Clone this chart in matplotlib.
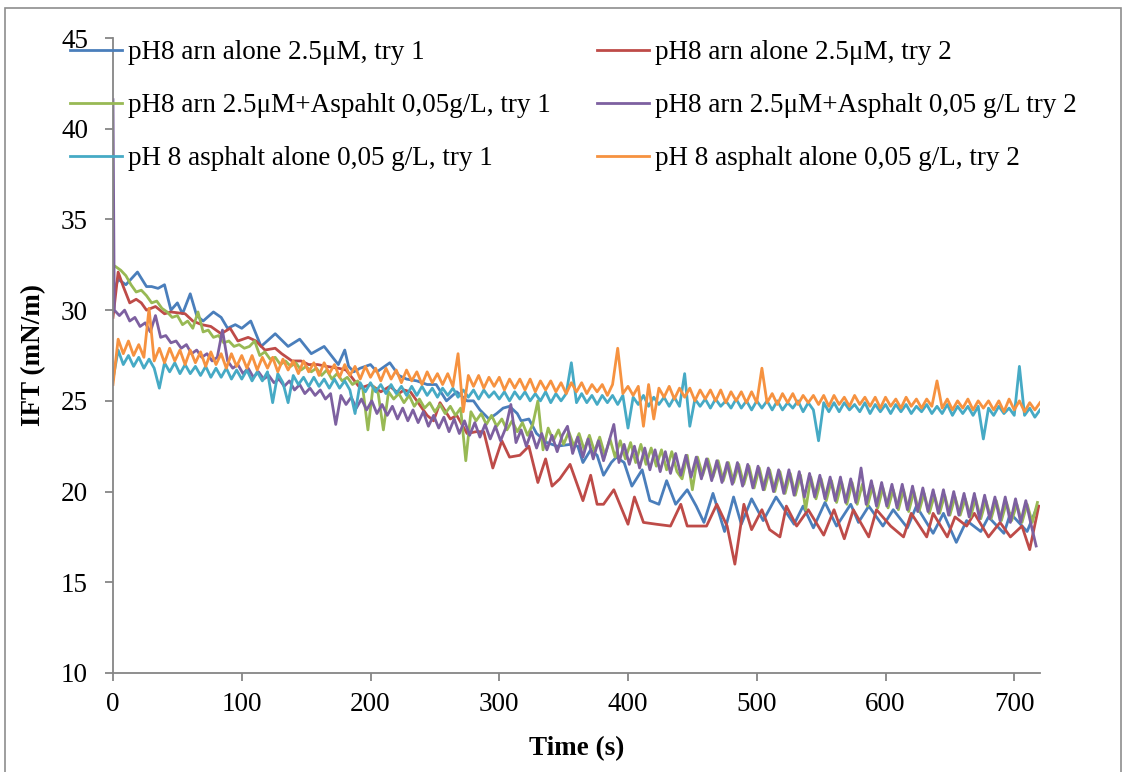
import numpy as np
import matplotlib
matplotlib.use('Agg')
import matplotlib.pyplot as plt
from matplotlib.patches import Rectangle

# Données (temps en s, IFT en mN/m)
blue = [
    (0, 30.9), (4, 31.7), (10, 31.4), (19, 32.1), (26, 31.3), (30, 31.3), (35, 31.2), (40, 31.4),
    (45, 30.0), (50, 30.4), (54, 29.8), (60, 30.9), (65, 29.7), (70, 29.4), (78, 29.9), (84, 29.6),
    (89, 29.0), (95, 29.2), (100, 29.0), (107, 29.4), (115, 28.0), (126, 28.7), (136, 28.0), (145, 28.4),
    (154, 27.6), (164, 28.0), (175, 27.0), (180, 27.8), (183, 26.9), (187, 26.6), (192, 26.8), (200, 27.0),
    (205, 26.6), (215, 27.1), (222, 26.4), (228, 26.2), (236, 26.1), (244, 25.9), (251, 25.9), (259, 25.0),
    (267, 25.5), (275, 25.0), (280, 25.0), (285, 24.5), (292, 24.0), (298, 24.3), (303, 24.6), (308, 24.7),
    (314, 24.3), (317, 23.9), (323, 24.0), (329, 23.2), (337, 22.7), (345, 22.5), (355, 22.6), (361, 22.5),
    (365, 21.6), (371, 22.3), (376, 22.0), (381, 20.9), (387, 21.6), (391, 21.9), (397, 21.6), (403, 20.3),
    (411, 21.2), (417, 19.5), (424, 19.3), (430, 20.6), (437, 19.3), (446, 20.1), (453, 19.2), (459, 18.3),
    (466, 19.9), (475, 17.8), (482, 19.7), (488, 18.2), (496, 19.6), (505, 18.4), (515, 19.7), (529, 18.2),
    (536, 19.2), (544, 18.0), (553, 19.4), (562, 18.1), (573, 19.3), (579, 18.3), (587, 19.2), (598, 18.1),
    (606, 19.0), (617, 18.0), (624, 19.2), (637, 17.7), (645, 18.8), (655, 17.2), (663, 18.4), (674, 17.8),
    (680, 18.6), (692, 17.7), (697, 18.8), (710, 17.8), (718, 19.2),
]

red = [
    (0, 29.6), (4, 32.1), (8, 31.3), (13, 30.4), (18, 30.6), (22, 30.4), (26, 30.0), (33, 30.2),
    (40, 29.8), (45, 29.9), (56, 29.8), (62, 29.4), (69, 29.2), (76, 29.1), (84, 28.7), (91, 29.0),
    (97, 28.3), (105, 28.5), (111, 28.3), (118, 27.8), (126, 27.9), (131, 27.6), (139, 27.2), (146, 27.2),
    (152, 27.0), (159, 27.0), (166, 26.9), (175, 26.8), (181, 26.7), (192, 25.7), (200, 25.9), (208, 25.5),
    (215, 25.8), (222, 25.4), (226, 25.6), (231, 25.5), (244, 24.2), (249, 23.9), (254, 24.9), (262, 24.0),
    (267, 24.2), (275, 23.2), (282, 23.3), (288, 23.3), (295, 21.3), (302, 22.8), (308, 21.9), (316, 22.0),
    (323, 22.5), (330, 20.5), (336, 21.8), (341, 20.3), (347, 20.7), (355, 21.5), (365, 19.5), (371, 20.9),
    (376, 19.3), (381, 19.3), (389, 20.1), (400, 18.2), (405, 19.7), (412, 18.3), (422, 18.2), (433, 18.1),
    (441, 19.3), (446, 18.1), (461, 18.1), (469, 19.3), (477, 18.1), (483, 16.0), (490, 19.3), (496, 17.9),
    (504, 19.0), (510, 17.9), (518, 17.5), (523, 19.2), (531, 18.1), (540, 19.0), (552, 17.6), (560, 19.0),
    (568, 17.4), (575, 19.0), (587, 17.5), (593, 19.0), (604, 18.1), (614, 17.5), (620, 18.8), (632, 17.5),
    (637, 18.8), (648, 17.5), (654, 18.6), (663, 18.1), (669, 18.8), (680, 17.5), (689, 18.3), (697, 17.5),
    (706, 18.1), (712, 16.8), (719, 19.2),
]

# séries échantillonnées toutes les 4 s
t_green = np.arange(2, 721, 4)
green = [
    32.4, 32.2, 31.9, 31.4, 31.0, 31.1, 30.8, 30.4, 30.5, 30.1,
    29.9, 29.6, 29.7, 29.2, 29.4, 29.0, 29.9, 28.8, 28.9, 28.5,
    28.6, 28.2, 28.3, 28.0, 28.1, 27.9, 28.0, 28.3, 27.5, 27.7,
    27.3, 27.4, 27.0, 27.2, 26.9, 27.1, 26.7, 26.9, 26.6, 26.8,
    26.4, 26.7, 26.2, 26.5, 26.1, 26.3, 25.9, 26.1, 25.7, 23.4,
    25.8, 25.4, 23.4, 25.5, 25.1, 25.4, 24.9, 25.3, 24.7, 25.1,
    24.6, 24.9, 24.4, 24.8, 24.3, 24.7, 24.2, 24.6, 21.7, 24.4,
    23.9, 24.3, 23.7, 24.2, 23.6, 24.0, 23.4, 23.9, 23.3, 23.8,
    23.1, 23.7, 25.0, 22.3, 23.5, 22.8, 23.4, 22.6, 23.3, 22.5,
    23.2, 22.3, 23.1, 22.2, 23.0, 22.0, 22.9, 21.9, 22.8, 21.8,
    22.7, 21.6, 22.6, 21.5, 22.4, 21.4, 22.3, 21.2, 22.2, 21.1,
    20.7, 22.0, 20.1, 21.9, 20.9, 21.8, 20.8, 21.7, 20.6, 21.6,
    20.5, 21.5, 20.4, 21.4, 20.2, 21.3, 20.1, 21.2, 20.0, 21.1,
    19.9, 21.0, 19.8, 20.9, 19.0, 20.8, 19.6, 20.7, 19.5, 20.6,
    19.4, 20.5, 19.3, 20.5, 19.3, 20.4, 19.2, 20.3, 19.1, 20.2,
    19.1, 20.1, 19.0, 20.1, 18.9, 20.0, 18.9, 19.9, 18.8, 19.8,
    18.8, 19.8, 18.7, 19.7, 18.7, 19.6, 18.6, 19.6, 18.5, 19.5,
    18.5, 19.5, 18.4, 19.4, 18.4, 19.3, 18.3, 19.3, 18.3, 19.4,
]

t_purple = np.r_[0, np.arange(1, 721, 4)]
purple = [
    41.6,
    30.0, 29.7, 30.0, 29.4, 29.6, 29.1, 29.3, 28.8, 29.7, 28.5,
    28.6, 28.2, 28.3, 27.9, 28.1, 27.6, 27.8, 27.4, 27.6, 27.2,
    27.4, 28.9, 27.2, 26.8, 27.0, 26.5, 26.8, 26.3, 26.6, 26.2,
    26.4, 26.0, 26.2, 25.8, 26.1, 25.6, 25.9, 25.4, 25.7, 25.3,
    25.6, 25.1, 25.4, 23.7, 25.3, 24.8, 25.2, 24.6, 25.1, 24.5,
    25.0, 24.3, 24.8, 24.2, 24.7, 24.0, 24.6, 23.9, 24.5, 23.8,
    24.4, 23.6, 24.2, 23.5, 24.1, 23.3, 24.0, 23.2, 23.9, 23.1,
    23.8, 23.0, 23.7, 22.9, 23.6, 22.8, 23.5, 24.8, 22.7, 23.4,
    22.5, 23.3, 22.4, 23.2, 22.3, 23.1, 22.2, 23.1, 23.6, 22.1,
    23.0, 21.9, 22.9, 21.8, 22.8, 21.7, 22.7, 23.7, 21.6, 22.6,
    21.5, 22.5, 21.3, 22.4, 21.2, 22.3, 21.1, 22.2, 21.0, 22.1,
    20.9, 22.0, 20.8, 21.9, 20.7, 21.8, 20.6, 21.7, 20.5, 21.6,
    20.4, 21.6, 20.3, 21.5, 20.2, 21.4, 20.1, 21.3, 20.0, 21.2,
    19.9, 21.2, 19.8, 21.1, 19.7, 21.0, 19.7, 20.9, 19.6, 20.8,
    19.5, 20.8, 19.4, 20.7, 19.4, 21.3, 19.3, 20.6, 19.2, 20.5,
    19.2, 20.4, 19.1, 20.4, 19.0, 20.3, 18.9, 20.2, 18.9, 20.1,
    18.8, 20.1, 18.7, 20.0, 18.7, 19.9, 18.6, 19.9, 18.5, 19.8,
    18.5, 19.7, 18.4, 19.7, 18.3, 19.6, 18.3, 19.5, 18.2, 17.0,
]

t_asph = np.arange(0, 721, 4)
cyan = [
    26.2, 27.8, 27.0, 27.5, 26.9, 27.4, 26.8, 27.3, 26.8, 25.7,
    27.1, 26.6, 27.1, 26.5, 27.0, 26.5, 26.9, 26.4, 26.9, 26.3,
    26.8, 26.3, 26.8, 26.2, 26.7, 26.2, 26.7, 26.1, 26.6, 26.1,
    26.6, 24.9, 26.5, 26.0, 24.9, 26.4, 25.9, 26.3, 25.8, 26.3,
    25.8, 26.2, 25.7, 26.2, 25.7, 26.1, 25.6, 24.3, 26.0, 25.5,
    26.0, 25.5, 25.9, 25.4, 25.9, 25.4, 25.8, 25.3, 25.8, 25.3,
    25.8, 25.3, 25.7, 25.2, 25.7, 25.3, 25.7, 25.2, 25.6, 25.2,
    25.6, 25.1, 25.6, 25.2, 25.5, 25.1, 25.5, 25.0, 25.5, 25.1,
    25.5, 25.0, 25.4, 25.0, 25.5, 24.9, 25.4, 25.0, 25.4, 27.1,
    24.9, 25.4, 24.9, 25.3, 24.8, 25.3, 24.9, 25.3, 24.8, 25.3,
    23.5, 25.2, 24.8, 25.3, 24.7, 25.2, 24.8, 25.2, 24.7, 25.2,
    24.7, 26.5, 23.6, 25.1, 24.7, 25.1, 24.6, 25.1, 24.7, 25.0,
    24.6, 25.1, 24.6, 25.0, 24.5, 25.0, 24.6, 25.0, 24.5, 25.0,
    24.5, 24.9, 24.6, 25.0, 24.4, 24.9, 24.5, 22.8, 24.9, 24.4,
    24.9, 24.4, 24.9, 24.5, 24.8, 24.4, 24.9, 24.3, 24.8, 24.4,
    24.8, 24.3, 24.8, 24.4, 24.8, 24.3, 24.7, 24.4, 24.8, 24.3,
    24.7, 24.3, 24.8, 24.2, 24.7, 24.3, 24.7, 24.2, 24.7, 22.9,
    24.6, 24.2, 24.7, 24.3, 24.6, 24.2, 26.9, 24.2, 24.6, 24.1,
    24.5,
]
orange = [
    25.9, 28.4, 27.6, 28.3, 27.5, 28.1, 27.4, 30.1, 27.2, 27.9,
    27.1, 27.9, 27.2, 27.8, 27.0, 27.8, 27.1, 27.7, 26.9, 27.7,
    27.0, 27.6, 26.8, 27.6, 26.9, 27.5, 26.8, 27.5, 26.7, 27.4,
    26.8, 27.4, 26.6, 27.3, 26.7, 27.2, 26.5, 27.2, 26.6, 27.1,
    26.4, 27.1, 26.5, 27.0, 26.3, 27.0, 26.4, 26.9, 26.2, 26.9,
    26.3, 26.8, 26.1, 26.8, 26.2, 26.7, 26.0, 26.7, 26.1, 26.6,
    25.9, 26.6, 26.0, 26.5, 25.9, 26.5, 25.8, 27.6, 24.4, 26.4,
    25.8, 26.4, 25.7, 26.3, 25.8, 26.3, 25.6, 26.2, 25.7, 26.2,
    25.6, 26.2, 25.5, 26.1, 25.6, 26.1, 25.5, 26.0, 25.4, 26.0,
    25.5, 26.0, 25.4, 25.9, 25.5, 25.9, 25.3, 25.9, 27.9, 25.4,
    25.8, 25.3, 25.8, 23.6, 25.9, 24.0, 25.7, 25.2, 25.8, 25.1,
    25.7, 25.2, 25.7, 25.0, 25.6, 25.1, 25.6, 25.0, 25.6, 24.9,
    25.5, 25.0, 25.5, 24.9, 25.5, 24.9, 26.8, 24.9, 25.4, 24.8,
    25.4, 24.9, 25.4, 24.8, 25.3, 24.9, 25.3, 24.8, 25.3, 24.7,
    25.3, 24.8, 25.2, 24.7, 25.3, 24.8, 25.2, 24.7, 25.2, 24.6,
    25.2, 24.7, 25.1, 24.6, 25.2, 24.7, 25.1, 24.6, 25.1, 24.7,
    26.1, 24.6, 25.1, 24.5, 25.0, 24.6, 25.1, 24.5, 25.0, 24.6,
    25.0, 24.5, 25.0, 24.4, 25.1, 24.5, 25.0, 24.4, 24.9, 24.5,
    24.9,
]

labels = [
    'pH8 arn alone 2.5μM, try 1',
    'pH8 arn alone 2.5μM, try 2',
    'pH8 arn 2.5μM+Aspahlt 0,05g/L, try 1',
    'pH8 arn 2.5μM+Asphalt 0,05 g/L try 2',
    'pH 8 asphalt alone 0,05 g/L, try 1',
    'pH 8 asphalt alone 0,05 g/L, try 2',
]
colors = ['#4A7EBB', '#BE4B48', '#98B954', '#7D60A0', '#46AAC5', '#F69240']

plt.rcParams['font.family'] = ['Liberation Serif', 'DejaVu Serif']

W, H = 1127, 772
fig = plt.figure(figsize=(W / 100, H / 100), dpi=100)
ax = fig.add_axes([113 / W, 1 - 673 / H, (1040 - 113) / W, (673 - 38) / H])

series = [
    ([p[0] for p in blue], [p[1] for p in blue]),
    ([p[0] for p in red], [p[1] for p in red]),
    (t_green, green),
    (t_purple, purple),
    (t_asph, cyan),
    (t_asph, orange),
]

handles = []
for (t, v), c, lab in zip(series, colors, labels):
    h, = ax.plot(t, v, color=c, lw=2.0, label=lab, solid_joinstyle='round')
    handles.append(h)

ax.set_xlim(0, 720)
ax.set_ylim(10, 45)
ax.set_xticks(range(0, 701, 100))
ax.set_yticks(range(10, 46, 5))

for s in ['top', 'right']:
    ax.spines[s].set_visible(False)
for s in ['left', 'bottom']:
    ax.spines[s].set_color('#868686')
    ax.spines[s].set_linewidth(1.3)

ax.tick_params(direction='out', length=6, width=1.3, color='#868686', labelsize=19.5)
ax.tick_params(axis='x', pad=8)
ax.tick_params(axis='y', pad=12)

ax.set_xlabel('Time (s)', fontsize=19.5, fontweight='bold')
ax.set_ylabel('IFT (mN/m)', fontsize=19.5, fontweight='bold')
ax.xaxis.set_label_coords(0.5, -0.1)
ax.yaxis.set_label_coords(-0.072, 0.5)

# légende sur 2 colonnes, lignes : (1,2), (3,4), (5,6)
order = [0, 2, 4, 1, 3, 5]
fig.legend([handles[i] for i in order], [labels[i] for i in order],
           ncol=2, loc='upper left', bbox_to_anchor=(70 / W, 1 - 40 / H),
           frameon=False, fontsize=19.5, borderpad=0, borderaxespad=0,
           handlelength=1.92, handletextpad=0.22, columnspacing=1.7,
           labelspacing=1.04)

# cadre du graphique
fig.patches.append(Rectangle((5 / W, -0.05), (1121 - 5) / W, 1 - 8 / H + 0.05,
                             transform=fig.transFigure, fill=False,
                             ec='#8e8e8e', lw=1.2))

fig.savefig('out.png', dpi=100)
